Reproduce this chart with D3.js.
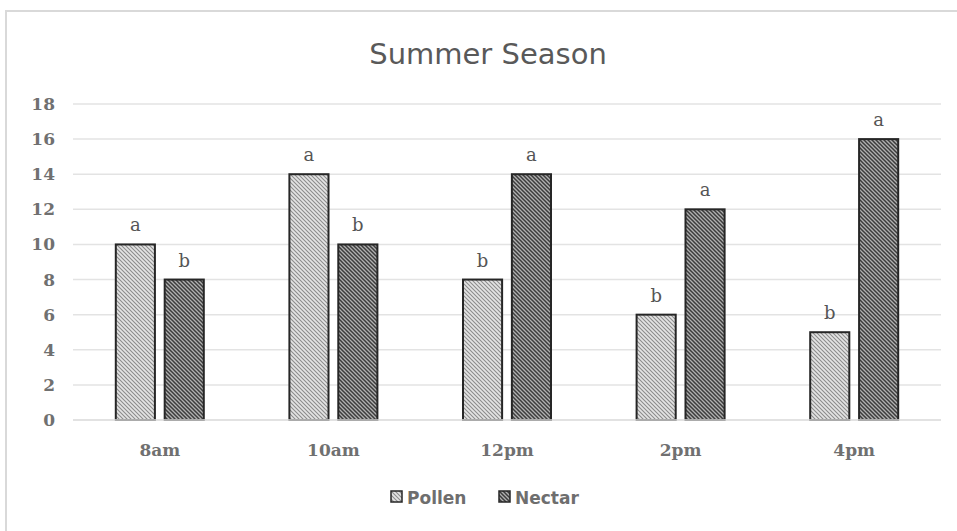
<!DOCTYPE html>
<html><head><meta charset="utf-8">
<script src="https://cdn.jsdelivr.net/npm/d3@7"></script>
<style>html,body{margin:0;padding:0;background:#fff;} svg{display:block;}</style>
</head><body>
<svg id="chart" width="957" height="531"></svg>
<script>
const categories = ["8am", "10am", "12pm", "2pm", "4pm"];
const seriesNames = ["Pollen", "Nectar"];
const pollen = [10, 14, 8, 6, 5];
const nectar = [8, 10, 14, 12, 16];
const pollenLetters = ["a", "a", "b", "b", "b"];
const nectarLetters = ["b", "b", "a", "a", "a"];
const yTicks = [0, 2, 4, 6, 8, 10, 12, 14, 16, 18];
const title = "Summer Season";

const svg = d3.select("#chart");
const defs = svg.append("defs");
function hatch(id, bg, fg, w) {
  const p = defs.append("pattern").attr("id", id).attr("patternUnits", "userSpaceOnUse")
    .attr("width", 4).attr("height", 4);
  p.append("rect").attr("width", 4).attr("height", 4).attr("fill", bg);
  p.append("path").attr("d", "M-1,-1 L5,5 M-1,3 L1,5 M3,-1 L5,1")
    .attr("stroke", fg).attr("stroke-width", w);
}
hatch("patPollen", "#e4e4e4", "#8c8c8c", 1.1);
hatch("patNectar", "#b0b0b0", "#3c3c3c", 1.5);
const fills = ["url(#patPollen)", "url(#patNectar)"];

// border
svg.append("path").attr("d", "M6,531 L6,11 L957,11").attr("fill", "none")
  .attr("stroke", "#d9d9d9").attr("stroke-width", 2);

const y = d3.scaleLinear().domain([0, 18]).range([420, 104]);
const x = d3.scaleBand().domain(categories).range([73, 941]).padding(0);
const xs = d3.scaleBand().domain(seriesNames).range([x.bandwidth()/2 - 44, x.bandwidth()/2 + 44]).paddingInner(0.2).paddingOuter(0);

const sans = "'DejaVu Sans', sans-serif";
const serif = "'DejaVu Serif', serif";
svg.append("text").attr("x", 488).attr("y", 64).attr("text-anchor", "middle")
  .attr("font-family", sans).attr("font-size", 29)
  .attr("fill", "#595959").text(title);

// gridlines
svg.append("g").selectAll("line").data(yTicks.filter(d => d > 0)).join("line")
  .attr("x1", 73).attr("x2", 941).attr("y1", d => y(d)).attr("y2", d => y(d))
  .attr("stroke", "#e3e3e3").attr("stroke-width", 1.5);

const yAxis = svg.append("g").attr("transform", "translate(55,0)")
  .call(d3.axisLeft(y).tickValues(yTicks).tickSize(0).tickPadding(0));
yAxis.select(".domain").remove();
yAxis.selectAll("text").attr("font-family", serif).attr("font-size", 17)
  .attr("font-weight", "bold").attr("fill", "#707070");

const rows = categories.map((c, i) => ({c, vals: [pollen[i], nectar[i]], lets: [pollenLetters[i], nectarLetters[i]]}));
const g = svg.append("g");
rows.forEach(r => {
  r.vals.forEach((v, k) => {
    const bx = x(r.c) + xs(seriesNames[k]);
    g.append("rect").attr("x", bx).attr("y", y(v)).attr("width", xs.bandwidth())
      .attr("height", y(0) - y(v)).attr("fill", fills[k])
      .attr("stroke", "#262626").attr("stroke-width", 2);
    g.append("text").attr("x", bx + xs.bandwidth()/2).attr("y", y(v) - 13)
      .attr("text-anchor", "middle").attr("font-family", serif)
      .attr("font-size", 18).attr("fill", "#555555").text(r.lets[k]);
  });
});

// x axis line
svg.append("line").attr("x1", 73).attr("x2", 941).attr("y1", y(0)).attr("y2", y(0))
  .attr("stroke", "#d9d9d9").attr("stroke-width", 1.5);
const xAxis = svg.append("g").attr("transform", `translate(0,${y(0)})`)
  .call(d3.axisBottom(x).tickSize(0).tickPadding(24));
xAxis.select(".domain").remove();
xAxis.selectAll("text").attr("font-family", serif).attr("font-size", 17)
  .attr("font-weight", "bold").attr("fill", "#707070");

// legend
const leg = svg.append("g");
const legX = [391, 499];
seriesNames.forEach((n, k) => {
  leg.append("rect").attr("x", legX[k]).attr("y", 491).attr("width", 11).attr("height", 11)
    .attr("fill", fills[k]).attr("stroke", "#262626").attr("stroke-width", 1.5);
  leg.append("text").attr("x", legX[k] + 16).attr("y", 504)
    .attr("font-family", sans).attr("font-size", 17).attr("font-weight", "bold")
    .attr("fill", "#6e6e6e").text(n);
});
</script>
</body></html>
